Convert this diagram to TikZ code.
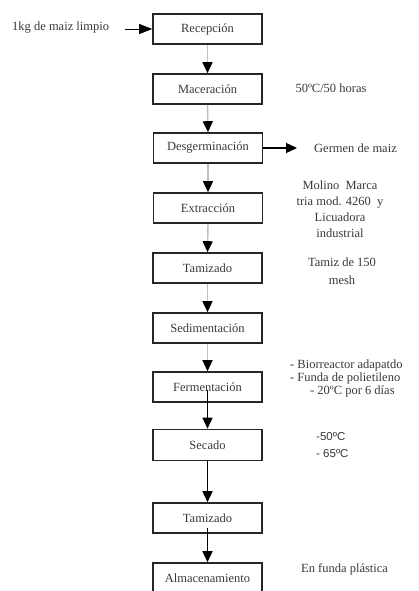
\documentclass[tikz,border=0pt]{standalone}
\usepackage{fontspec}
\setmainfont{Liberation Serif}
\newfontfamily\arialf{Liberation Sans}
\usetikzlibrary{arrows.meta}
\definecolor{txt}{rgb}{0.22,0.22,0.22}
\definecolor{lgray}{rgb}{0.75,0.75,0.75}
\tikzset{
  stepbox/.style={draw=black!85, line width=1.6pt, minimum width=109pt, minimum height=30pt, inner sep=0pt, text=txt, font=\fontsize{12.5}{14}\selectfont},
  lbl/.style={text=txt, font=\fontsize{12.5}{15}\selectfont, inner sep=0pt},
  gconn/.style={draw=lgray, line width=1.4pt, -{Triangle[width=10pt,length=11pt,color=black]}},
  bconn/.style={draw=black, line width=1.4pt, -{Triangle[width=10pt,length=11pt,color=black]}},
  sconn/.style={draw=black, line width=0.8pt, -{Triangle[width=10pt,length=13pt,color=black]}}
}
\begin{document}
\begin{tikzpicture}[x=1pt,y=-1pt]
\useasboundingbox (0,0) rectangle (419,591);
\begin{scope}
\clip (0,0) rectangle (419,591);
\node[stepbox] (rec) at (207.5,29) {Recepción};
\node[stepbox] (mac) at (207.5,89) {Maceración};
\node[stepbox] (des) at (208,148) {Desgerminación};
\node[stepbox] (ext) at (208,208) {Extracción};
\node[stepbox] (tam) at (207.5,268) {Tamizado};
\node[stepbox] (sed) at (207.5,328) {Sedimentación};
\node[stepbox] (fer) at (207.5,387) {Fermentación};
\node[stepbox, minimum height=31pt] (sec) at (207.5,445) {Secado};
\node[stepbox] (tam2) at (207.5,518) {Tamizado};
\node[stepbox] (alm) at (207.5,578) {Almacenamiento};
\end{scope}

\node[lbl, anchor=west] (in) at (12,28) {1kg de maiz limpio};
\coordinate (inA) at (125,29);
\draw[sconn] (inA) -- (rec.west);

\draw[gconn] (rec.south) -- (mac.north);
\draw[gconn] (mac.south) -- (des.north);
\draw[gconn] (des.south) -- (ext.north);
\draw[gconn] (ext.south) -- (tam.north);
\draw[gconn] (tam.south) -- (sed.north);
\draw[gconn] (sed.south) -- (fer.north);
\draw[bconn] ([yshift=13pt]fer.south) -- (sec.north);
\draw[bconn] (sec.south) -- (tam2.north);
\draw[bconn] ([yshift=6pt]tam2.south) -- (alm.north);

\node[lbl] (t1) at (331,88) {50ºC/50 horas};
\coordinate (gerA) at (297,148);
\draw[bconn, line width=1.2pt] (des.east) -- (gerA);
\node[lbl, anchor=west] (t2) at (314,148) {Germen de maiz};
\node[lbl, align=center, font=\fontsize{12.5}{16}\selectfont] (t3) at (340,209) {Molino\ \ Marca\\tria mod. 4260\ \ y\\Licuadora\\industrial};
\node[lbl, align=center, font=\fontsize{12.5}{18}\selectfont] (t4) at (342,271) {Tamiz de 150\\mesh};
\node[lbl, anchor=west] (t5) at (290,365) {- Biorreactor adapatdo};
\node[lbl, anchor=west] (t6) at (290,378) {- Funda de polietileno};
\node[lbl, anchor=west] (t7) at (310,391) {- 20ºC por 6 días};
\node[lbl, anchor=west, font=\arialf\fontsize{11.5}{14}\selectfont] (t8) at (316,437) {-50ºC};
\node[lbl, anchor=west, font=\arialf\fontsize{11.5}{14}\selectfont] (t9) at (316,454) {- 65ºC};
\node[lbl, anchor=west] (t10) at (301,569) {En funda plástica};
\end{tikzpicture}
\end{document}
